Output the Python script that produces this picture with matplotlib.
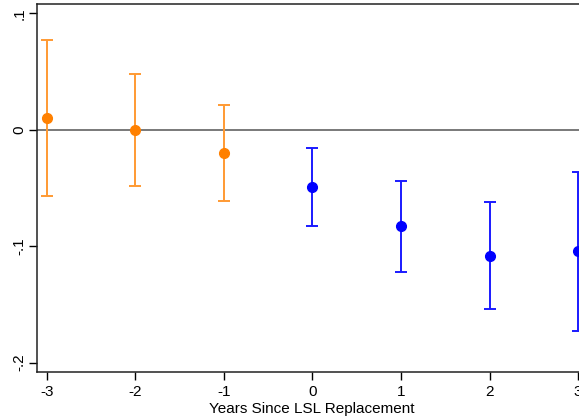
import matplotlib
matplotlib.use("Agg")
import matplotlib.pyplot as plt

plt.rcParams['font.family'] = ['Liberation Sans', 'DejaVu Sans']

# Event-time coefficients and 95% confidence bounds
pre_years = [-3, -2, -1]
pre_coef = [0.010, 0.000, -0.020]
pre_lo = [-0.057, -0.048, -0.061]
pre_hi = [0.077, 0.048, 0.021]

post_years = [0, 1, 2, 3]
post_coef = [-0.049, -0.083, -0.108, -0.104]
post_lo = [-0.083, -0.122, -0.154, -0.173]
post_hi = [-0.016, -0.044, -0.062, -0.036]

y_ticks = [0.1, 0, -0.1, -0.2]
y_labels = [".1", "0", "-.1", "-.2"]

fig = plt.figure(figsize=(5.79, 4.19), dpi=100)
# axes run past the right edge of the canvas
ax = fig.add_axes([37 / 579, 47 / 419, 550 / 579, 368 / 419])

ax.axhline(0, color='#555555', lw=1.1, zorder=1)

def draw(years, coef, lo, hi, color, line_color):
    err = [[c - l for c, l in zip(coef, lo)], [h - c for c, h in zip(coef, hi)]]
    ax.errorbar(years, coef, yerr=err, fmt='o', color=color, ecolor=line_color,
                elinewidth=1.4, capsize=4, capthick=1.4, markersize=7, zorder=3)

draw(pre_years, pre_coef, pre_lo, pre_hi, '#ff8000', '#ff9a33')
draw(post_years, post_coef, post_lo, post_hi, '#0000ff', '#1a1aff')

ax.set_xlim(-3.11, 3.1)
ax.set_ylim(-0.208, 0.108)
ax.set_xticks(range(-3, 4))
ax.set_xticklabels([str(v) for v in range(-3, 4)])
ax.set_yticks(y_ticks)
ax.set_yticklabels(y_labels, rotation=90, va='center')
ax.tick_params(direction='out', length=6, width=1, labelsize=11, colors='black')
ax.tick_params(axis='y', pad=1.5)
ax.set_xlabel("Years Since LSL Replacement", fontsize=11, labelpad=2)

for s in ax.spines.values():
    s.set_linewidth(1.1)
    s.set_color('#222222')

fig.savefig("out.png", dpi=100)
